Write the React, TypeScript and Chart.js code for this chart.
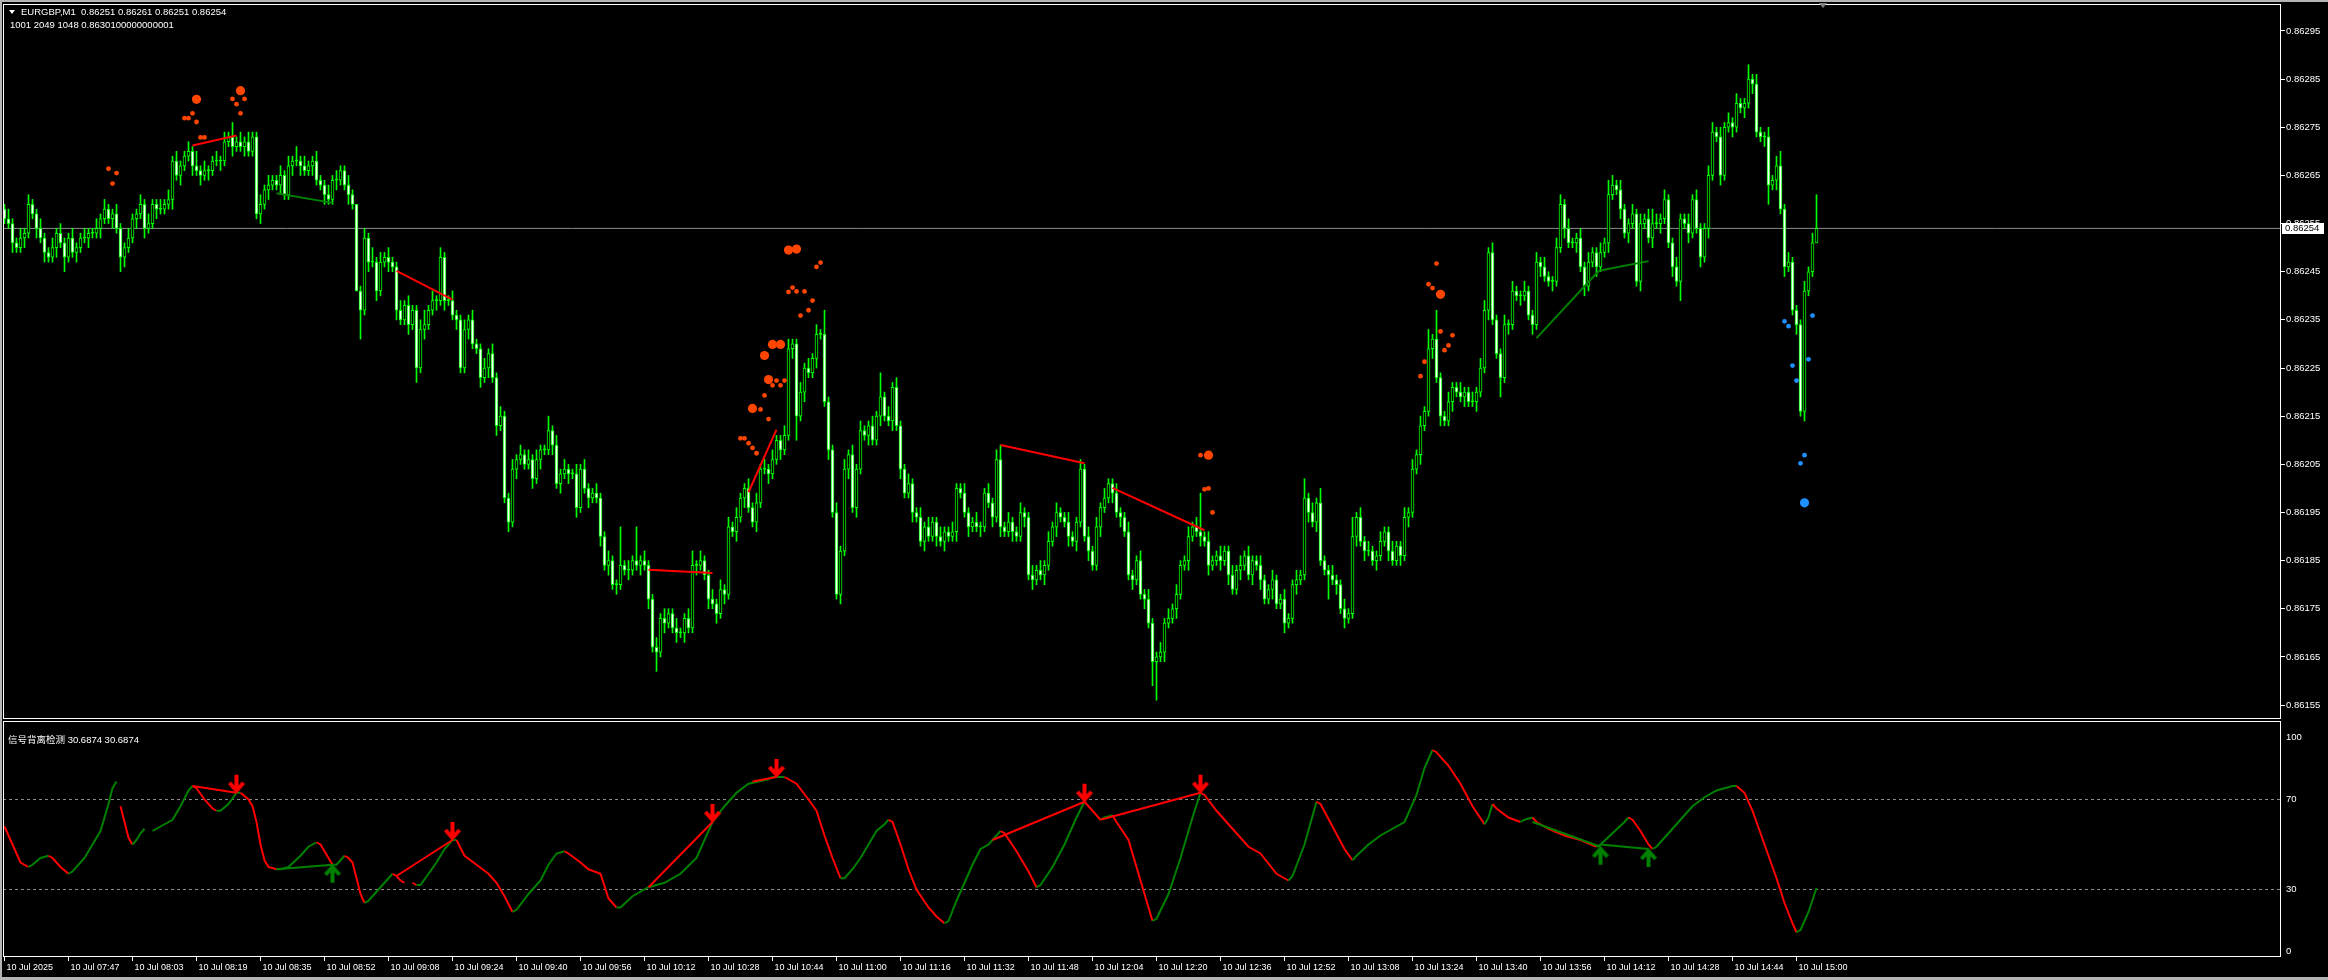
import React, { useEffect, useRef } from 'react';
import { Chart, registerables } from 'chart.js';

Chart.register(...registerables);

// ---------- text ----------
const SYMBOL_LINE = 'EURGBP,M1  0.86251 0.86261 0.86251 0.86254';
const INFO_LINE = '1001 2049 1048 0.8630100000000001';
const OSC_TITLE = '信号背离检测 30.6874 30.6874';

// ---------- price data (points above 0.86000, 1 point = 0.00001) ----------
const PRICE_BASE = 0.86;
const POINT = 0.00001;
const firstOpen = 258;
const closes = [
  256,255,251,250,252,253,259,257,254,252,
  249,248,250,253,251,248,252,249,250,252,
  252,253,253,254,256,258,256,257,254,248,
  250,252,256,257,259,254,255,259,258,258,
  259,260,268,265,267,269,270,267,266,265,
  266,266,268,268,268,272,273,271,272,271,
  272,270,273,257,259,262,263,264,263,265,
  261,267,268,268,267,266,267,268,264,263,
  261,260,264,264,266,263,261,259,241,237,
  252,247,247,241,247,248,247,246,237,235,
  238,234,237,225,233,234,237,239,239,248,
  239,239,236,235,225,233,235,230,229,223,
  225,228,223,213,215,198,193,204,206,207,
  205,206,202,206,208,208,212,209,201,203,
  204,203,203,196,204,200,198,199,198,190,
  184,185,180,180,184,183,183,185,184,185,
  184,177,167,166,173,172,174,171,170,170,
  173,171,184,184,185,182,177,176,174,179,
  178,192,191,194,198,200,196,193,197,204,
  204,203,206,210,208,211,229,230,215,220,
  225,224,227,232,232,218,208,195,178,187,
  204,207,196,204,212,211,213,210,215,219,
  215,214,221,213,204,199,201,195,194,189,
  192,190,193,190,189,191,190,191,200,199,
  195,192,193,192,192,199,197,194,206,192,
  191,193,191,190,195,194,182,181,183,182,
  184,189,192,195,194,193,190,189,193,204,
  190,187,184,192,196,198,201,199,195,194,
  191,182,181,185,178,177,172,164,165,166,
  172,173,175,178,184,185,190,192,191,190,
  189,184,185,186,185,187,182,179,183,184,
  186,182,185,184,181,177,179,181,176,177,
  172,173,180,181,182,198,195,193,197,185,
  183,182,181,180,175,173,174,190,194,189,
  187,187,185,186,189,191,187,185,188,186,
  194,195,204,207,213,216,229,231,223,215,
  214,218,221,220,219,220,218,218,220,225,
  237,249,235,228,223,234,234,241,240,240,
  241,236,234,247,246,244,243,243,250,259,
  254,251,251,252,246,242,247,249,246,249,
  251,261,263,262,258,253,255,257,243,255,
  256,252,255,255,256,260,251,246,243,256,
  255,253,260,254,248,254,265,274,273,265,
  275,276,275,280,279,280,285,284,274,273,
  273,263,264,267,258,246,247,237,234,216,
  241,245,251,254,
];
const wickUp = [
  1,2,1,1,2,1,2,1,1,2, 1,1,2,1,2,1,1,2,1,1, 2,1,1,2,1,2,1,1,2,1, 1,2,1,1,2,1,2,1,1,2,
  1,2,1,2,1,1,2,1,3,1, 2,1,1,2,1,2,1,3,1,2, 1,2,1,1,2,1,2,1,1,2, 1,2,1,3,1,2,1,1,2,1,
  1,2,1,2,1,1,2,1,0,1, 2,1,3,1,2,1,2,1,1,2, 1,2,1,1,2,3,1,2,1,2, 1,1,2,1,1,2,1,2,1,1,
  2,1,2,1,2,1,1,2,1,2, 1,2,1,2,1,1,3,1,2,1, 2,1,1,2,1,2,1,1,2,1, 1,2,1,1,8,1,2,1,7,1,
  2,1,1,2,1,2,1,1,2,1, 1,2,3,1,2,1,1,2,1,2, 1,2,1,2,1,1,2,1,2,1, 2,1,2,1,1,2,2,1,1,2,
  1,2,1,2,1,5,1,1,2,1, 2,1,2,1,2,1,1,2,1,5, 1,2,1,2,1,1,2,1,1,2, 1,2,1,1,2,1,1,2,1,1,
  2,1,1,2,1,1,2,1,2,3, 1,2,1,1,2,1,1,2,1,2, 1,2,1,2,1,1,2,1,1,2, 1,2,1,2,1,2,1,1,2,1,
  1,2,1,1,2,1,2,1,1,2, 1,2,1,2,1,1,2,1,2,8, 1,2,1,1,2,1,1,2,1,2, 1,2,1,1,2,1,1,2,1,1,
  2,1,1,2,1,4,1,2,1,3, 1,1,2,1,1,2,1,4,1,2, 1,2,1,1,2,1,1,2,1,1, 2,1,2,1,2,1,4,1,6,1,
  1,2,1,1,2,1,1,2,1,2, 2,1,2,1,1,2,1,2,1,1, 2,1,1,2,1,2,1,1,2,2, 1,2,1,1,2,1,2,1,1,2,
  1,3,2,1,2,1,1,2,1,2, 1,2,3,2,1,2,1,1,2,1, 1,2,1,2,1,1,2,2,1,2, 1,2,1,2,1,1,3,1,2,1,
  1,2,1,2,3,1,2,1,1,1, 2,1,2,7,
];
const wickDn = [
  1,1,2,1,1,2,1,1,2,1, 2,1,1,2,1,3,1,1,2,1, 1,2,1,1,2,1,1,2,1,3, 2,1,1,2,1,2,1,1,2,1,
  1,1,2,1,2,1,1,2,1,2, 1,2,1,1,2,1,1,2,1,1, 2,1,1,1,2,1,2,1,1,2, 1,1,2,1,2,1,1,2,1,1,
  2,1,1,2,1,1,2,1,0,6, 1,2,1,2,1,1,2,1,2,1, 1,2,1,3,1,2,1,1,2,1, 2,1,1,2,1,1,2,1,1,2,
  1,2,1,2,1,1,2,1,2,1, 1,1,2,1,2,1,1,2,1,2, 1,2,1,2,1,1,2,1,1,2, 1,2,1,2,1,1,2,1,1,2,
  1,2,1,4,1,2,1,1,2,1, 2,1,1,2,1,1,2,1,2,1, 2,1,1,2,1,2,1,1,2,1, 1,2,1,1,2,1,1,2,5,1,
  2,1,1,2,1,1,2,1,1,2, 1,2,1,2,1,1,2,1,1,2, 1,1,2,1,2,1,1,2,1,1, 2,1,1,2,1,2,1,1,2,1,
  1,2,1,1,2,1,1,2,1,2, 1,1,2,1,1,2,1,2,1,1, 2,1,1,2,1,1,2,1,2,1, 1,2,1,1,2,1,1,2,1,2,
  1,1,2,1,1,2,1,5,8,1, 2,1,1,2,1,1,2,1,1,2, 1,2,1,1,2,1,2,1,1,2, 1,1,2,1,2,1,1,2,1,1,
  2,1,1,2,1,1,2,1,2,1, 1,5,1,2,1,2,1,1,2,1, 2,1,1,2,1,1,2,1,1,2, 1,2,1,1,2,1,1,2,1,2,
  1,1,2,1,1,2,1,1,2,1, 1,2,1,1,4,1,2,1,1,2, 1,1,2,1,2,1,1,2,1,1, 2,1,1,2,1,2,1,1,2,1,
  1,2,1,1,2,1,2,1,1,2, 1,1,2,1,2,1,1,2,1,4, 1,2,1,1,2,1,2,1,1,2, 1,1,2,1,1,2,1,2,1,1,
  2,4,1,2,1,2,1,1,2,1, 2,1,1,0,
];
const bidPoints = 254;

// ---------- axes ----------
const priceTicks = [155,165,175,185,195,205,215,225,235,245,255,265,275,285,295];
const timeLabelBars = [0,16,32,48,64,80,96,112,128,144,160,176,192,208,224,240,256,272,288,304,320,336,352,368,384,400,416,432,448];
const timeLabels = [
  '10 Jul 2025','10 Jul 07:47','10 Jul 08:03','10 Jul 08:19','10 Jul 08:35','10 Jul 08:52','10 Jul 09:08','10 Jul 09:24',
  '10 Jul 09:40','10 Jul 09:56','10 Jul 10:12','10 Jul 10:28','10 Jul 10:44','10 Jul 11:00','10 Jul 11:16','10 Jul 11:32',
  '10 Jul 11:48','10 Jul 12:04','10 Jul 12:20','10 Jul 12:36','10 Jul 12:52','10 Jul 13:08','10 Jul 13:24','10 Jul 13:40',
  '10 Jul 13:56','10 Jul 14:12','10 Jul 14:28','10 Jul 14:44','10 Jul 15:00',
];
const oscTicks = [0, 30, 70, 100];
const oscLevels = [30, 70];

// ---------- signal dots on the price chart (bar, points) ----------
const orangeSmallBars = [26,28,27,47,45,46,48,49,50,57,60,58,59,203,204,197,196,198,200,202,201,199,193,195,192,194,190,189,191,184,185,186,187,188,299,300,301,302,358,356,357,359,362,361,360,355,354];
const orangeSmallVals = [266.4,265.5,263.3,277.9,276.9,276.9,276.1,272.9,272.9,280.9,280.9,279.8,277.9,246,246.9,241.7,240.8,240.9,240.9,239,237,235.9,222.4,222.4,221.4,221.4,219.3,216.4,214.4,210.4,210.4,209.4,208.4,207.3,206.9,199.8,200,195,246.7,242.4,241.6,232.6,231.8,229.7,228.7,226.3,223.3];
const orangeBigBars = [48,59,196,198,192,194,190,191,187,301,359];
const orangeBigVals = [280.8,282.6,249.5,249.7,229.9,229.9,227.6,222.6,216.6,206.9,240.3];
const blueSmallBars = [445,446,452,447,451,448,450,449];
const blueSmallVals = [234.7,233.7,235.9,225.5,226.8,222.4,206.9,205.2];
const blueBigBars = [450];
const blueBigVals = [197];

// ---------- trend lines on the price chart [bar0, pts0, bar1, pts1] ----------
const priceRedLines = [
  [47,271.2,58,273.3],[98,245.2,112,239.2],[161,183.1,177,182.4],
  [186,199.2,193,212.2],[249,209,270,205.2],[277,200.1,300,191.3],
];
const priceGreenLines = [[68,261.3,82,259.3],[383,231.2,398.6,245.2],[398.6,245.2,411,247.2]];

// ---------- oscillator (bar, value; null = gap) ----------
const oscBars = [
  0,2,4,6,7,9,11,12,14,16,17,20,22,24,26,27,28,28.5,29,30,31,32,33,34,35,36,37,40,42,44,46,47,48,50,52,53,54,56,58,
  59,61,62,63,64,65,66,68,69,71,74,76,78,79,80,81,82,83,84,85,86,87,88,89,90,91,93,95,97,98,99,100,101,102,103,
  104,106,108,110,112,113,115,118,121,123,125,127,128,131,134,136,138,140,141,144,146,149,151,153,
  154,157,161,165,169,173,177,180,183,186,191,192,195,198,201,203,205,207,209,210,212,214,216,218,220,221,
  222,224,226,228,231,233,235,236,238,240,242,244,246,247,249,250,253,256,258,259,262,265,268,270,271,274,275,277,
  278,281,283,285,287,288,291,294,297,299,300,303,305,308,311,314,318,321,322,325,328,329,332,335,337,
  338,341,344,347,350,353,355,357,358,361,364,367,370,371,372,373,376,379,380,382,383,386,390,394,398,
  399,402,405,406,407,409,411,412,413,416,419,422,425,428,432,433,435,437,439,441,443,445,447,448,449,451,453,
];
const oscVals = [
  58,50,42,40,41,44,45,44,40,37,38,44,50,56,68,75,78,null,67,60,53,50,52,55,57,null,56,59,61,67,74,76,75,70,66,65,65,68,73,
  73,70,67,60,50,43,40,39,39,40,45,49,51,50,47,44,41,41,43,45,44,42,35,28,24,25,29,33,37,36,34,33,null,33,32,
  32,37,42,48,52,52,45,41,37,33,27,20,21,28,34,41,46,47,46,42,39,37,26,22,
  22,27,31,33,37,44,60,67,73,77,79,80,80,77,70,65,54,44,35,35,39,44,50,56,59,61,
  60,50,39,30,22,18,15,16,25,33,41,48,50,52,56,55,47,38,31,32,40,50,62,69,67,61,62,63,
  60,52,40,28,16,17,28,44,62,73,72,65,61,55,49,46,37,34,36,50,69,68,58,48,43,
  45,50,54,57,60,72,84,92,91,85,77,67,59,62,68,66,62,60,61,62,60,57,54,52,49,
  50,55,60,62,61,56,50,48,49,55,61,67,71,74,76,76,73,65,55,45,35,24,15,11,12,20,30.6874,
];
// divergence lines [bar0, v0, bar1, v1]
const oscRedLines = [[47,76,58,73],[98,36,112,52],[161,31,177,60],[187,78,193,80],[247,52,270,69],[274,61,299,73]];
const oscGreenLines = [[68,39,82,41],[382,60,399,49],[399,50,411,48]];
const oscDownArrowBars = [58,112,177,193,270,299];
const oscDownArrowVals = [73,52,60,80,69,73];
const oscUpArrowBars = [82,399,411];
const oscUpArrowVals = [41,49,48];

// ---------- style ----------
const LIME = '#00ff00';
const RED = '#ff0000';
const GREEN = '#008000';
const ORANGE = '#ff4500';
const BLUE = '#1e90ff';
const FONT = '"Liberation Sans", Arial, sans-serif';
const X_MIN = -0.375;
const X_MAX = 569.125;

const toPrice = (p: number) => +(PRICE_BASE + p * POINT).toFixed(6);

function makeArrow(color: string, down: boolean) {
  const c = document.createElement('canvas');
  c.width = 18;
  c.height = 40;
  const g = c.getContext('2d')!;
  g.fillStyle = color;
  g.strokeStyle = color;
  if (!down) {
    g.translate(0, 40);
    g.scale(1, -1);
  }
  g.fillRect(7, 2, 4, 14);
  g.lineWidth = 4;
  g.beginPath();
  g.moveTo(2, 10);
  g.lineTo(9, 18);
  g.lineTo(16, 10);
  g.stroke();
  return c;
}

// no automatic label padding: keep the plot area exactly where the layout puts it
const noPad = (s: any) => {
  s.paddingTop = 0;
  s.paddingBottom = 0;
  s.paddingLeft = 0;
  s.paddingRight = 0;
};

const framePlugin = {
  id: 'frame',
  afterDraw(chart: any) {
    const { ctx, chartArea } = chart;
    ctx.save();
    ctx.strokeStyle = '#ffffff';
    ctx.lineWidth = 1;
    ctx.strokeRect(chartArea.left + 0.5, chartArea.top - 0.5, chartArea.right - chartArea.left - 1, chartArea.bottom - chartArea.top);
    ctx.restore();
  },
};

const bidLabelPlugin = {
  id: 'bidLabel',
  afterDraw(chart: any) {
    const { ctx } = chart;
    const y = chart.scales.y.getPixelForValue(toPrice(bidPoints));
    ctx.save();
    ctx.fillStyle = '#ffffff';
    ctx.fillRect(2282, Math.round(y) - 5, 42, 11);
    ctx.fillStyle = '#000000';
    ctx.font = `9.5px ${FONT}`;
    ctx.textBaseline = 'middle';
    ctx.fillText(toPrice(bidPoints).toFixed(5), 2285, Math.round(y) + 0.5);
    ctx.restore();
  },
};

export default function App() {
  const mainRef = useRef<HTMLCanvasElement>(null);
  const oscRef = useRef<HTMLCanvasElement>(null);

  useEffect(() => {
    document.body.style.margin = '0';
    document.body.style.background = '#000';

    const opens = closes.map((c, i) => (i === 0 ? firstOpen : closes[i - 1]));
    const wicks = closes.map((c, i) => ({
      x: i,
      y: [toPrice(Math.min(opens[i], c) - wickDn[i]), toPrice(Math.max(opens[i], c) + wickUp[i])],
    }));
    const bodies = closes.map((c, i) => ({ x: i, y: [toPrice(opens[i]), toPrice(c)] }));
    const bodyFill = closes.map((c, i) => (c < opens[i] ? '#ffffff' : c > opens[i] ? '#000000' : LIME));
    const pts = (bars: number[], vals: number[]) => bars.map((b, i) => ({ x: b, y: toPrice(vals[i]) }));
    const seg = (s: number[], f: (v: number) => number) => [{ x: s[0], y: f(s[1]) }, { x: s[2], y: f(s[3]) }];

    const main = new Chart(mainRef.current!, {
      type: 'bar',
      data: {
        datasets: [
          { type: 'scatter', data: pts(orangeBigBars, orangeBigVals), pointRadius: 4.6, pointBackgroundColor: ORANGE, pointBorderWidth: 0, order: 0 } as any,
          { type: 'scatter', data: pts(orangeSmallBars, orangeSmallVals), pointRadius: 2.4, pointBackgroundColor: ORANGE, pointBorderWidth: 0, order: 0 } as any,
          { type: 'scatter', data: pts(blueBigBars, blueBigVals), pointRadius: 4.6, pointBackgroundColor: BLUE, pointBorderWidth: 0, order: 0 } as any,
          { type: 'scatter', data: pts(blueSmallBars, blueSmallVals), pointRadius: 2.4, pointBackgroundColor: BLUE, pointBorderWidth: 0, order: 0 } as any,
          ...priceRedLines.map((s) => ({ type: 'line', data: seg(s, toPrice), borderColor: RED, borderWidth: 2, pointRadius: 0, order: 1 } as any)),
          ...priceGreenLines.map((s) => ({ type: 'line', data: seg(s, toPrice), borderColor: GREEN, borderWidth: 2, pointRadius: 0, order: 1 } as any)),
          {
            type: 'bar', data: bodies, barThickness: 3, borderWidth: 1, borderColor: LIME, backgroundColor: bodyFill,
            borderSkipped: false, minBarLength: 1, grouped: false, order: 2,
          } as any,
          { type: 'bar', data: wicks, barThickness: 1, backgroundColor: LIME, borderWidth: 0, grouped: false, order: 3 } as any,
          {
            type: 'line', data: [{ x: X_MIN, y: toPrice(bidPoints) }, { x: X_MAX, y: toPrice(bidPoints) }],
            borderColor: '#8c8c8c', borderWidth: 1, pointRadius: 0, order: 4,
          } as any,
        ],
      },
      options: {
        responsive: false,
        animation: false,
        events: [],
        layout: { padding: { left: 3, top: 5, right: 0, bottom: 1 }, autoPadding: false } as any,
        plugins: { legend: { display: false }, tooltip: { enabled: false } },
        scales: {
          x: {
            type: 'linear', min: X_MIN, max: X_MAX, display: false, offset: false, grid: { offset: false },
            afterFit: (s: any) => { noPad(s); },
          } as any,
          y: {
            type: 'linear', position: 'right', min: toPrice(152.115), max: toPrice(300.425),
            afterBuildTicks: (s: any) => { s.ticks = priceTicks.map((p) => ({ value: toPrice(p) })); },
            afterFit: (s: any) => { s.width = 47; noPad(s); },
            ticks: { autoSkip: false, color: '#ffffff', padding: 1, font: { family: FONT, size: 9.5 }, callback: (v: any) => Number(v).toFixed(5) },
            grid: { drawOnChartArea: false, drawTicks: true, tickLength: 4, color: '#ffffff' },
            border: { display: false },
          } as any,
        },
      },
      plugins: [framePlugin, bidLabelPlugin],
    });

    const downArrow = makeArrow(RED, true);
    const upArrow = makeArrow(GREEN, false);
    const oscPts = oscBars.map((b, i) => ({ x: b, y: oscVals[i] }));
    const id = (v: number) => v;

    const osc = new Chart(oscRef.current!, {
      type: 'line',
      data: {
        datasets: [
          {
            type: 'scatter', data: oscDownArrowBars.map((b, i) => ({ x: b, y: oscDownArrowVals[i] })),
            pointStyle: downArrow, pointRadius: 5, order: 0,
          } as any,
          {
            type: 'scatter', data: oscUpArrowBars.map((b, i) => ({ x: b, y: oscUpArrowVals[i] })),
            pointStyle: upArrow, pointRadius: 5, order: 0,
          } as any,
          ...oscRedLines.map((s) => ({ type: 'line', data: seg(s, id), borderColor: RED, borderWidth: 2, pointRadius: 0, order: 1 } as any)),
          ...oscGreenLines.map((s) => ({ type: 'line', data: seg(s, id), borderColor: GREEN, borderWidth: 2, pointRadius: 0, order: 1 } as any)),
          {
            type: 'line', data: oscPts, borderWidth: 2, pointRadius: 0, spanGaps: false, borderColor: RED,
            segment: { borderColor: (ctx: any) => (ctx.p1.parsed.y >= ctx.p0.parsed.y ? GREEN : RED) },
            order: 2,
          } as any,
          ...oscLevels.map((lv) => ({
            type: 'line', data: [{ x: X_MIN, y: lv }, { x: X_MAX, y: lv }], borderColor: '#8c8c8c',
            borderWidth: 1, borderDash: [3, 3], pointRadius: 0, order: 3,
          } as any)),
        ],
      },
      options: {
        responsive: false,
        animation: false,
        events: [],
        layout: { padding: { left: 3, top: 2, right: 0, bottom: 0 }, autoPadding: false } as any,
        plugins: { legend: { display: false }, tooltip: { enabled: false } },
        scales: {
          x: {
            type: 'linear', min: X_MIN, max: X_MAX, offset: false,
            afterBuildTicks: (s: any) => { s.ticks = timeLabelBars.map((v) => ({ value: v })); },
            afterFit: (s: any) => { s.height = 23; noPad(s); },
            ticks: {
              autoSkip: false, maxRotation: 0, minRotation: 0, align: 'start', labelOffset: 2, padding: 1,
              color: '#ffffff', font: { family: FONT, size: 9 }, callback: (_v: any, i: number) => timeLabels[i],
            },
            grid: { drawOnChartArea: false, drawTicks: true, tickLength: 4, color: '#ffffff', offset: false },
            border: { display: false },
          } as any,
          y: {
            type: 'linear', position: 'right', min: 0, max: 104.444,
            afterBuildTicks: (s: any) => { s.ticks = oscTicks.map((v) => ({ value: v })); },
            afterFit: (s: any) => { s.width = 47; noPad(s); },
            ticks: {
              autoSkip: false, color: '#ffffff', padding: 1, font: { family: FONT, size: 9.5 },
              callback: (v: any) => (v === 100 ? ['', '100'] : v === 0 ? ['0', ''] : String(v)),
            },
            grid: { drawOnChartArea: false, drawTicks: true, tickLength: 4, color: 'rgba(0,0,0,0)' },
            border: { display: false },
          } as any,
        },
      },
      plugins: [framePlugin],
    });

    return () => {
      main.destroy();
      osc.destroy();
    };
  }, []);

  const textStyle: React.CSSProperties = {
    position: 'absolute', color: '#ffffff', fontFamily: FONT, fontSize: '9.5px', lineHeight: '12px', whiteSpace: 'pre',
  };

  return (
    <div style={{ position: 'relative', width: 2328, height: 980, background: '#000', overflow: 'hidden' }}>
      <canvas ref={mainRef} width={2328} height={720} style={{ position: 'absolute', left: 0, top: 0, display: 'block' }} />
      <canvas ref={oscRef} width={2328} height={260} style={{ position: 'absolute', left: 0, top: 720, display: 'block' }} />
      <div style={{ position: 'absolute', left: 0, top: 0, width: 2328, height: 2, background: '#b4b4b4' }} />
      <div style={{ position: 'absolute', left: 0, top: 0, width: 2, height: 980, background: '#b4b4b4' }} />
      <div style={{ position: 'absolute', left: 0, top: 977, width: 2328, height: 3, background: '#b4b4b4' }} />
      <div style={{ position: 'absolute', left: 9, top: 10, width: 0, height: 0, borderLeft: '3px solid transparent', borderRight: '3px solid transparent', borderTop: '4px solid #ffffff' }} />
      <div style={{ position: 'absolute', left: 1819, top: 3, width: 0, height: 0, borderLeft: '4px solid transparent', borderRight: '4px solid transparent', borderTop: '5px solid #808080' }} />
      <div style={{ ...textStyle, left: 21, top: 6 }}>{SYMBOL_LINE}</div>
      <div style={{ ...textStyle, left: 10, top: 19 }}>{INFO_LINE}</div>
      <div style={{ ...textStyle, left: 8, top: 734, fontFamily: `${FONT}, "Noto Sans CJK SC"` }}>{OSC_TITLE}</div>
    </div>
  );
}
